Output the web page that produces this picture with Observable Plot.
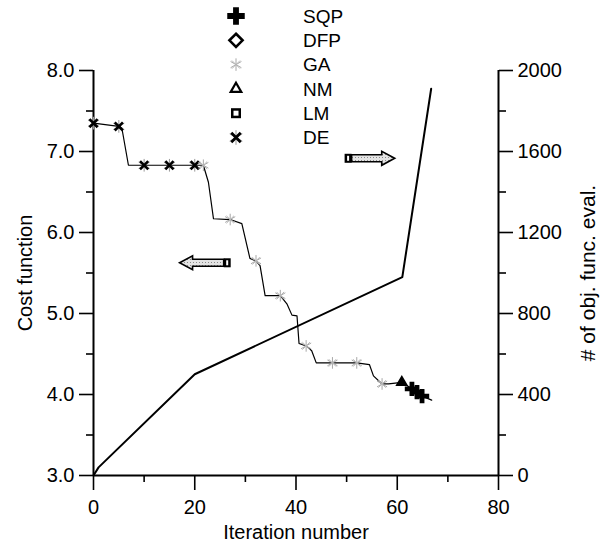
<!DOCTYPE html>
<html><head><meta charset="utf-8">
<script src="https://cdn.jsdelivr.net/npm/d3@7"></script>
<script src="https://cdn.jsdelivr.net/npm/@observablehq/plot@0.6"></script>
<style>
body{margin:0;background:#fff;}
#wrap{position:relative;width:612px;height:550px;font-family:"Liberation Sans",Arial,sans-serif;}
</style></head><body><div id="wrap"></div>
<script>
// ---- data ----
const costIter = [0, 5, 5.6, 6.9, 10, 15, 20, 21.7, 22.7, 23.7, 27, 29.3, 30.9, 32.1, 32.9, 33.9, 36.9, 38.2, 39.2, 40.2, 40.6, 42, 43.1, 44, 47.2, 52, 54.5, 55.3, 57, 58.3, 60.9, 62.9, 63.9, 64.9, 66.8];
const costVal  = [7.35, 7.31, 7.29, 6.83, 6.83, 6.83, 6.83, 6.83, 6.62, 6.17, 6.16, 6.11, 5.68, 5.65, 5.59, 5.22, 5.22, 5.12, 4.98, 4.97, 4.63, 4.60, 4.54, 4.39, 4.39, 4.39, 4.37, 4.23, 4.13, 4.13, 4.15, 4.07, 4.03, 3.98, 3.93];

const deIter = [0, 5, 10, 15, 20];
const deVal  = [7.35, 7.31, 6.83, 6.83, 6.83];
const gaIter = [21.7, 27, 32.1, 36.9, 42, 47.2, 52, 57];
const gaVal  = [6.83, 6.16, 5.65, 5.22, 4.60, 4.39, 4.39, 4.13];
const nmIter = [60.9];
const nmVal  = [4.15];
const sqpIter = [62.9, 63.9, 64.9];
const sqpVal  = [4.07, 4.03, 3.98];

const evalIter = [0, 1, 20, 61, 66.7];
const evalNum  = [0, 40, 500, 980, 1910];

const xTicks = [0, 20, 40, 60, 80];
const xMinor = [10, 30, 50, 70];
const costTicks = [3, 4, 5, 6, 7, 8];
const costMinor = [3.5, 4.5, 5.5, 6.5, 7.5];
const evalTicks = [0, 400, 800, 1200, 1600, 2000];
const evalMinor = [200, 600, 1000, 1400, 1800];

const legendNames = ["SQP", "DFP", "GA", "NM", "LM", "DE"];

// arrows pointing to the axis each curve belongs to
const arrowTail = [27.2, 49.7];
const arrowTip  = [17.1, 59.6];
const arrowCost = [5.62, 6.91];

// ---- build ----
const toCost = n => 3 + n / 400;
const costData = costIter.map((x, i) => ({x, y: costVal[i]}));
const evalData = evalIter.map((x, i) => ({x, y: toCost(evalNum[i])}));
const pts = (xs, ys) => xs.map((x, i) => ({x, y: ys[i]}));
const arrows = arrowTail.map((t, i) => ({tail: t, tip: arrowTip[i], y: arrowCost[i]}));

function arrowMark(index, scales, values, dims, context) {
  const g = d3.create("svg:g");
  const defs = g.append("defs");
  const pat = defs.append("pattern").attr("id", "dotsPat").attr("width", 3).attr("height", 3).attr("patternUnits", "userSpaceOnUse");
  pat.append("rect").attr("width", 3).attr("height", 3).attr("fill", "#e4e4e4");
  pat.append("rect").attr("x", 1).attr("y", 1).attr("width", 1).attr("height", 1).attr("fill", "#8a8a8a");
  const sx = scales.x, sy = scales.y;
  for (const a of arrows) {
    const x0 = sx(a.tail), x1 = sx(a.tip), y = sy(a.y);
    const dir = Math.sign(x1 - x0);
    const head = 13, hh = 7, bh = 3.5, tail = 7;
    const xb = x1 - dir * head, xt = x0 + dir * tail;
    g.append("path")
      .attr("d", `M${xt},${y - bh}L${xb},${y - bh}L${xb},${y - hh}L${x1},${y}L${xb},${y + hh}L${xb},${y + bh}L${xt},${y + bh}Z`)
      .attr("fill", "url(#dotsPat)").attr("stroke", "#000").attr("stroke-width", 1.6).attr("stroke-linejoin", "miter");
    g.append("rect").attr("x", Math.min(x0, xt)).attr("y", y - 4.5).attr("width", tail).attr("height", 9).attr("fill", "#000");
    g.append("rect").attr("x", Math.min(x0, xt) + 2.5).attr("y", y - 2.5).attr("width", 2).attr("height", 5).attr("fill", "#fff");
  }
  return g.node();
}

const font = "'Liberation Sans', Arial, sans-serif";
const chart = Plot.plot({
  width: 612, height: 550,
  marginLeft: 93, marginRight: 114, marginTop: 70, marginBottom: 75,
  x: {domain: [0, 80]},
  y: {domain: [3, 8]},
  style: {fontFamily: font, fontSize: "20px", color: "#000", background: "#fff"},
  marks: [
    Plot.ruleX([0, 80], {stroke: "#000", strokeWidth: 2}),
    Plot.ruleY([3], {stroke: "#000", strokeWidth: 2}),
    Plot.axisX(xTicks, {tickSize: 15, tickPadding: 9, strokeWidth: 1.6, fontSize: 20, label: null}),
    Plot.axisX(xMinor, {tickSize: 7, strokeWidth: 1.6, tickFormat: () => "", label: null}),
    Plot.axisX([], {label: "Iteration number", labelArrow: "none", labelAnchor: "center", labelOffset: 63, fontSize: 20}),
    Plot.axisY(costTicks, {anchor: "left", tickSize: 14, tickPadding: 5, strokeWidth: 1.6, tickFormat: d3.format(".1f"), fontSize: 20, label: null}),
    Plot.axisY(costMinor, {anchor: "left", tickSize: 7, strokeWidth: 1.6, tickFormat: () => "", label: null}),
    Plot.axisY([], {anchor: "left", label: "Cost function", labelArrow: "none", labelAnchor: "center", labelOffset: 76, fontSize: 20}),
    Plot.axisY(evalTicks.map(toCost), {anchor: "right", tickSize: 14, tickPadding: 5, strokeWidth: 1.6, tickFormat: v => String(Math.round((v - 3) * 400)), fontSize: 20, label: null}),
    Plot.axisY(evalMinor.map(toCost), {anchor: "right", tickSize: 7, strokeWidth: 1.6, tickFormat: () => "", label: null}),
    Plot.axisY([], {anchor: "right", label: "# of obj. func. eval.", labelArrow: "none", labelAnchor: "center", labelOffset: 96, fontSize: 21}),
    Plot.line(evalData, {x: "x", y: "y", stroke: "#000", strokeWidth: 2}),
    Plot.line(costData, {x: "x", y: "y", stroke: "#000", strokeWidth: 1.2}),
    Plot.dot(pts(deIter, deVal), {x: "x", y: "y", symbol: "asterisk", r: 6, stroke: "#999", strokeWidth: 1}),
    Plot.dot(pts(deIter, deVal), {x: "x", y: "y", symbol: "times", r: 3.8, stroke: "#000", strokeWidth: 2.6}),
    Plot.dot(pts(gaIter, gaVal), {x: "x", y: "y", symbol: "asterisk", r: 5.5, stroke: "#a8a8a8", strokeWidth: 1}),
    Plot.dot(pts(gaIter, gaVal), {x: "x", y: "y", symbol: "times", r: 3.5, stroke: "#b8b8b8", strokeWidth: 1}),
    Plot.dot(pts(nmIter, nmVal), {x: "x", y: "y", symbol: "triangle2", r: 4.5, stroke: "#000", fill: "#000", strokeWidth: 2}),
    Plot.dot(pts(sqpIter, sqpVal), {x: "x", y: "y", symbol: "cross", r: 6, fill: "#000", stroke: "none"}),
    arrowMark
  ]
});
document.getElementById("wrap").appendChild(chart);

// ---- legend (overlay at top) ----
const leg = d3.select("#wrap").append("svg")
  .attr("width", 612).attr("height", 150)
  .style("position", "absolute").style("left", "0px").style("top", "0px");
const symX = 236, textX = 303, rowY0 = 16, rowStep = 24.3;
legendNames.forEach((name, i) => {
  const y = rowY0 + i * rowStep;
  const g = leg.append("g").attr("transform", `translate(${symX},${y})`);
  if (name === "SQP") {
    g.append("path").attr("d", d3.symbol(d3.symbolCross, 170)()).attr("fill", "#000");
  } else if (name === "DFP") {
    g.append("path").attr("d", d3.symbol(d3.symbolDiamond2, 110)()).attr("fill", "none").attr("stroke", "#000").attr("stroke-width", 2.6);
  } else if (name === "GA") {
    g.append("path").attr("d", d3.symbol(d3.symbolAsterisk, 110)()).attr("fill", "none").attr("stroke", "#a8a8a8").attr("stroke-width", 1);
    g.append("path").attr("d", d3.symbol(d3.symbolTimes, 45)()).attr("fill", "none").attr("stroke", "#b8b8b8").attr("stroke-width", 1);
  } else if (name === "NM") {
    g.append("path").attr("d", d3.symbol(d3.symbolTriangle2, 80)()).attr("fill", "none").attr("stroke", "#000").attr("stroke-width", 2.2);
  } else if (name === "LM") {
    g.append("rect").attr("x", -5).attr("y", -5).attr("width", 10).attr("height", 10).attr("fill", "#000");
    g.append("rect").attr("x", -2.5).attr("y", -2.5).attr("width", 5).attr("height", 5).attr("fill", "#fff");
  } else {
    g.append("path").attr("d", d3.symbol(d3.symbolAsterisk, 150)()).attr("fill", "none").attr("stroke", "#999").attr("stroke-width", 1);
    g.append("path").attr("d", d3.symbol(d3.symbolTimes, 60)()).attr("fill", "none").attr("stroke", "#000").attr("stroke-width", 2.8);
  }
  leg.append("text").attr("x", textX).attr("y", y).attr("dy", "0.35em")
    .attr("font-family", font).attr("font-size", 19).attr("fill", "#000").text(name);
});
</script></body></html>
